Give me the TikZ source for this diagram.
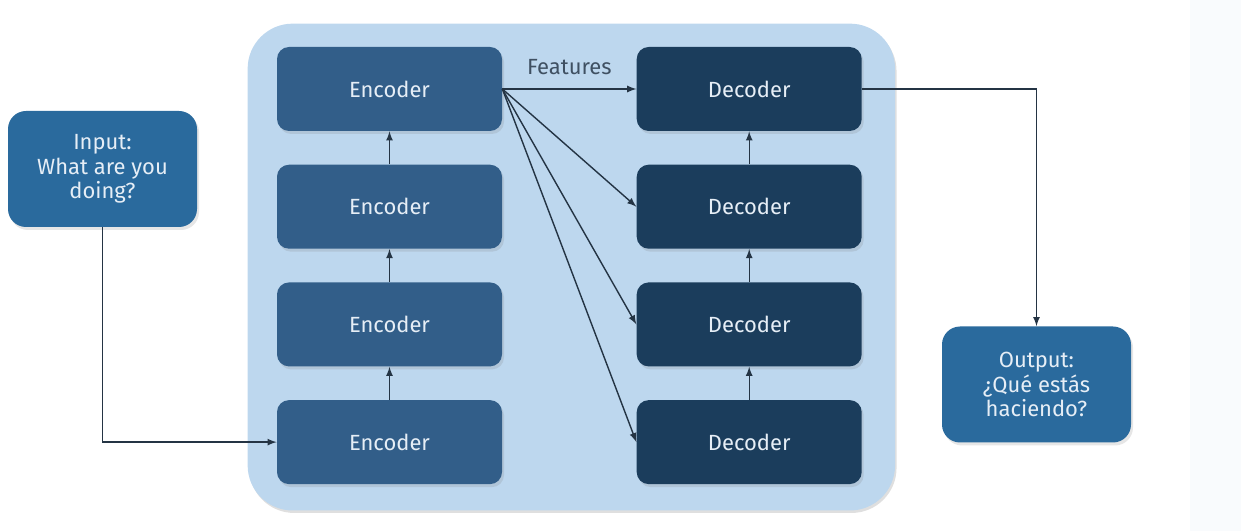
\documentclass[tikz,border=0pt]{standalone}
\usepackage{fontspec}
\setmainfont{Fira Sans}
\usepackage{tikz}
\usetikzlibrary{arrows,positioning,fit,shadows,backgrounds}
\definecolor{enc}{HTML}{325E89}
\definecolor{dec}{HTML}{1B3D5C}
\definecolor{io}{HTML}{2A6A9D}
\definecolor{frameblue}{HTML}{BDD7EE}
\definecolor{textw}{HTML}{E6EEF6}
\definecolor{featc}{HTML}{3F5062}
\definecolor{arrowc}{HTML}{243444}
\definecolor{strip}{HTML}{F9FBFD}

\begin{document}
\begin{tikzpicture}
\tikzstyle{block}=[rectangle, rounded corners=2.4mm, minimum width=45mm, minimum height=16.8mm, text=textw, font=\fontsize{12.5}{14}\selectfont, node distance=6.6mm, drop shadow={opacity=0.2, shadow xshift=0.4mm, shadow yshift=-0.6mm}]
\tikzstyle{io}=[rectangle, rounded corners=3.6mm, fill=io, minimum width=37.8mm, minimum height=23.2mm, align=center, text=textw, font=\fontsize{12.5}{14}\selectfont, drop shadow={opacity=0.2, shadow xshift=0.4mm, shadow yshift=-0.6mm}]
\tikzstyle{connect}=[-latex, line width=0.8pt, draw=arrowc]
\tikzstyle{frame}=[rectangle, rounded corners=9mm, fill=frameblue, inner xsep=6.2mm, inner ysep=4.9mm, drop shadow={opacity=0.25, shadow xshift=0.3mm, shadow yshift=-0.5mm}]
  \useasboundingbox (0,0) rectangle (24.82,10.62);
  \fill[strip] (23.8,0) rectangle (24.82,10.62);
  % encoders, top to bottom
  \node[block, fill=enc] (E4) at (7.79,8.84) {Encoder};
  \node[block, fill=enc, below=of E4] (E3) {Encoder};
  \node[block, fill=enc, below=of E3] (E2) {Encoder};
  \node[block, fill=enc, below=of E2] (E1) {Encoder};
  % decoders
  \node[block, fill=dec, right=26.8mm of E4] (D4) {Decoder};
  \node[block, fill=dec, below=of D4] (D3) {Decoder};
  \node[block, fill=dec, below=of D3] (D2) {Decoder};
  \node[block, fill=dec, below=of D2] (D1) {Decoder};
  \begin{scope}[on background layer]
    \node[frame, fit=(E1) (E4) (D1) (D4), xshift=0.04cm, yshift=-0.03cm] (box) {};
  \end{scope}
  \node[io] (input) at (2.05,7.24) {Input:\\What are you\\doing?};
  \node[io] (output) at (20.73,2.93) {Output:\\¿Qué estás\\haciendo?};
  \path (E1) edge [connect] (E2)
        (E2) edge [connect] (E3)
        (E3) edge [connect] (E4)
        (D1) edge [connect] (D2)
        (D2) edge [connect] (D3)
        (D3) edge [connect] (D4);
  \draw[connect] (E4.east) -- node[above=1.5mm, text=featc, font=\fontsize{12.5}{14}\selectfont] {Features} (D4.west);
  \draw[connect] (E4.east) -- (D3.west);
  \draw[connect] (E4.east) -- (D2.west);
  \draw[connect] (E4.east) -- (D1.west);
  \draw[connect] (input.south) |- (E1.west);
  \draw[connect] (D4.east) -| (output.north);
\end{tikzpicture}
\end{document}
